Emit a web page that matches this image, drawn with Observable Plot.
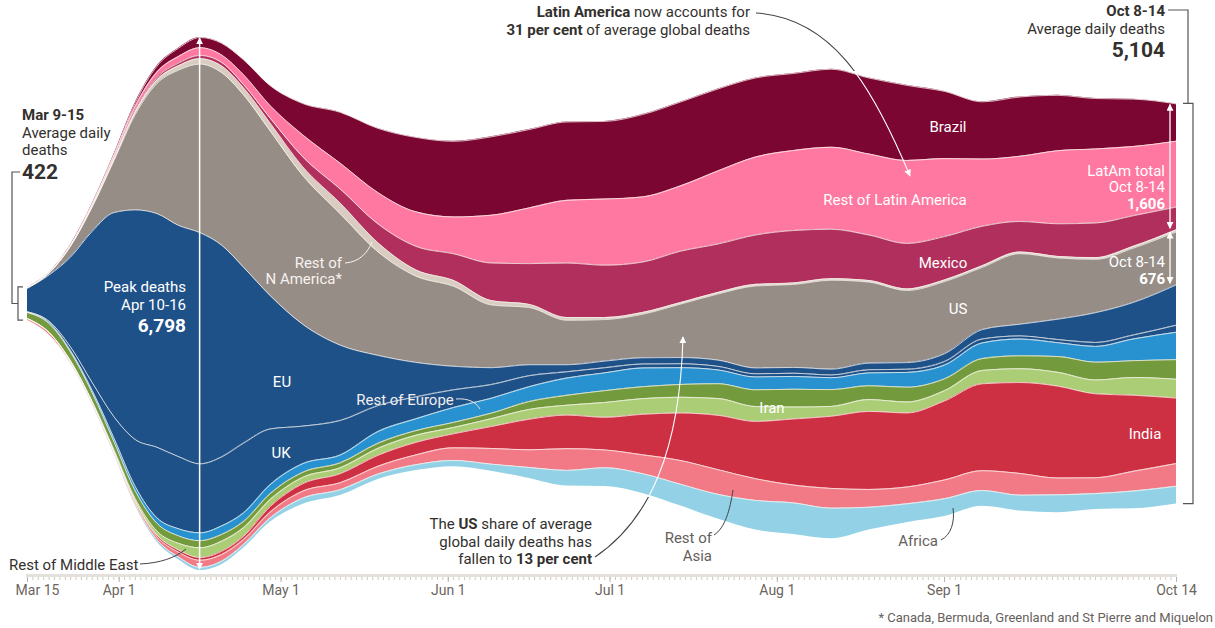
<!DOCTYPE html>
<html>
<head>
<meta charset="utf-8">
<script src="https://cdn.jsdelivr.net/npm/d3@7"></script>
<script src="https://cdn.jsdelivr.net/npm/@observablehq/plot@0.6"></script>
<style>
  html, body { margin: 0; padding: 0; background: #fff; }
  #chart { width: 1215px; height: 628px; overflow: hidden; }
  svg text { font-family: Roboto, "Noto Sans", sans-serif; }
</style>
</head>
<body>
<div id="chart"></div>
<script>
// ---------- DATA (7-day average daily deaths) ----------
const dates = ["2020-03-15","2020-03-19","2020-03-23","2020-03-27","2020-03-31","2020-04-04","2020-04-08","2020-04-12","2020-04-16","2020-04-20","2020-04-24","2020-04-29","2020-05-05","2020-05-12","2020-05-19","2020-05-26","2020-06-02","2020-06-09","2020-06-16","2020-06-23","2020-06-30","2020-07-07","2020-07-14","2020-07-21","2020-07-28","2020-08-04","2020-08-11","2020-08-18","2020-08-25","2020-09-01","2020-09-08","2020-09-15","2020-09-22","2020-09-29","2020-10-06","2020-10-14"];

const brazil      = [0,0,2,8,20,45,75,105,130,150,190,255,400,650,820,950,965,1000,1000,1000,990,1050,1070,1046,1008,983,995,970,958,857,730,756,706,643,605,475];
const restLatAm   = [2,3,8,20,35,55,70,85,100,95,125,160,280,330,400,440,470,610,710,800,844,832,832,932,995,1020,1046,1033,1058,995,857,832,932,945,882,840];
const mexico      = [0,0,1,4,10,20,30,35,40,45,40,63,126,180,240,300,340,480,520,695,668,643,655,617,630,668,630,580,580,554,504,390,416,441,391,291];
const restNAm     = [1,2,4,8,15,30,45,55,70,85,90,100,110,135,115,80,75,55,40,35,25,22,20,20,20,20,20,20,20,20,20,20,20,22,22,25];
const us          = [8,25,140,310,660,1220,1660,1980,2150,2200,2200,2100,1900,1675,1320,1100,1020,800,730,567,530,555,680,844,1046,1058,1134,1033,920,920,794,900,781,680,693,676];
const eu          = [300,590,1150,1930,2600,2930,2980,2950,2948,2700,2250,1700,1300,960,640,440,300,215,140,90,85,80,80,80,75,75,75,85,85,100,120,150,260,380,416,515];
const uk          = [4,15,45,100,270,600,900,920,880,880,890,710,480,440,330,280,225,175,140,80,65,50,50,45,40,40,35,40,40,45,50,40,40,50,50,90];
const restEurope  = [6,15,20,30,45,55,70,90,100,110,110,115,110,100,150,150,190,190,190,220,227,240,214,176,164,164,151,164,189,176,200,214,176,202,277,350];
const iran        = [75,110,110,110,105,100,100,95,90,85,80,75,65,63,65,60,65,70,100,126,151,151,164,189,214,227,214,176,189,151,151,164,202,227,214,250];
const restMidEast = [3,6,8,10,20,30,50,85,125,130,110,90,80,75,88,90,80,100,125,126,189,200,200,214,189,151,126,151,139,130,170,176,176,176,227,240];
const india       = [0,1,2,3,5,10,20,28,35,40,40,70,95,115,140,160,180,280,390,428,416,517,605,693,731,844,920,995,945,1008,1109,1160,1172,1071,970,835];
const restAsia    = [22,28,15,15,15,30,40,62,90,85,65,75,90,90,100,125,160,200,225,277,227,240,302,315,277,227,252,227,214,240,252,277,214,202,252,290];
const africa      = [1,5,5,7,10,15,25,35,40,45,45,55,80,75,70,75,80,90,140,200,240,252,277,315,378,403,390,290,240,227,200,202,227,202,227,227];

// stacking order: bottom -> top
const regions = ["Africa","Rest of Asia","India","Rest of Middle East","Iran","Rest of Europe","UK","EU","US","Rest of N America","Mexico","Rest of Latin America","Brazil"];
const regionValues = [africa, restAsia, india, restMidEast, iran, restEurope, uk, eu, us, restNAm, mexico, restLatAm, brazil];
const regionColors = ["#93d2e6","#f27a86","#cd3042","#abcd76","#739a3d","#2891d0","#1f5189","#1f5189","#978d87","#d9ccc0","#b12f5c","#fe78a1","#7b0631"];

const axisTickDates = ["2020-03-15","2020-04-01","2020-05-01","2020-06-01","2020-07-01","2020-08-01","2020-09-01","2020-10-14"];
const axisTickLabels = ["Mar 15","Apr 1","May 1","Jun 1","Jul 1","Aug 1","Sep 1","Oct 14"];

// ---------- BUILD ----------
const table = dates.flatMap((d, i) => regions.map((r, j) => ({date: new Date(d), region: r, deaths: regionValues[j][i]})));
const totals = dates.map((d, i) => d3.sum(regionValues, v => v[i]));
const days = d3.utcDay.range(new Date("2020-03-15"), new Date("2020-10-15"));
const monthTicks = axisTickDates.map(d => new Date(d));
const labelRows = axisTickDates.map((d, i) => ({date: new Date(d), label: axisTickLabels[i]}));

const W = 1215, H = 628;
const stackOpts = {x: "date", y: "deaths", z: "region", order: regions, offset: "center", curve: "monotone-x"};

const chart = Plot.plot({
  width: W, height: H,
  marginTop: 37, marginBottom: 51, marginLeft: 27, marginRight: 39,
  style: {background: "#fff", fontFamily: "Roboto, 'Noto Sans', sans-serif", overflow: "visible"},
  x: {type: "utc", domain: [new Date("2020-03-15"), new Date("2020-10-14")]},
  y: {axis: null, insetBottom: 7},
  color: {domain: regions, range: regionColors},
  marks: [
    Plot.areaY(table, Plot.stackY({...stackOpts, fill: "region"})),
    Plot.lineY(table, Plot.stackY2({...stackOpts, stroke: "#fbf6f1", strokeWidth: 0.9, strokeOpacity: 0.85})),
    Plot.axisX({ticks: days, tickSize: 3, tickFormat: () => "", stroke: "#cfc9c3", label: null}),
    Plot.axisX({ticks: monthTicks, tickSize: 5, tickFormat: () => "", stroke: "#b9b3ad", label: null}),
    Plot.text(labelRows.slice(1), {x: "date", text: "label", frameAnchor: "bottom", dy: 17, fill: "#6b6560", fontSize: 14}),
    Plot.text(labelRows.slice(0, 1), {x: "date", text: "label", frameAnchor: "bottom", dy: 17, dx: 10, fill: "#6b6560", fontSize: 14})
  ]
});
document.getElementById("chart").appendChild(chart);

// ---------- ANNOTATIONS ----------
const xs = chart.scale("x"), ys = chart.scale("y");
const yr = ys.range, yd = ys.domain;
const ppu = Math.abs(yr[0] - yr[1]) / Math.abs(yd[1] - yd[0]);
const yc = ys.apply((yd[0] + yd[1]) / 2);
const topAt = i => yc - totals[i] / 2 * ppu;
const botAt = i => yc + totals[i] / 2 * ppu;

const svg = d3.select(chart);
const defs = svg.append("defs");
function marker(id, color) {
  defs.append("marker").attr("id", id).attr("viewBox", "0 0 10 10").attr("refX", 9).attr("refY", 5)
    .attr("markerWidth", 7).attr("markerHeight", 7).attr("markerUnits", "userSpaceOnUse").attr("orient", "auto-start-reverse")
    .append("path").attr("d", "M0,0L10,5L0,10Z").attr("fill", color);
}
marker("ahw", "#ffffff");
defs.append("clipPath").attr("id", "clipLA1").append("rect").attr("x", 0).attr("y", 0).attr("width", W).attr("height", 71);
defs.append("clipPath").attr("id", "clipLA2").append("rect").attr("x", 0).attr("y", 71).attr("width", W).attr("height", H);
defs.append("clipPath").attr("id", "clipUS1").append("rect").attr("x", 0).attr("y", 497).attr("width", W).attr("height", H);
defs.append("clipPath").attr("id", "clipUS2").append("rect").attr("x", 0).attr("y", 0).attr("width", W).attr("height", 497);

const g = svg.append("g");
const DARK = "#33302e", GREY = "#66605c";

// axis ruler
const x0 = xs.apply(new Date("2020-03-15")), x1 = xs.apply(new Date("2020-10-14"));
g.append("rect").attr("x", x0 - 1).attr("y", 574).attr("width", x1 - x0 + 2).attr("height", 3).attr("fill", "#e4e0dc");

function path(d, stroke, width, extra = {}) {
  const p = g.append("path").attr("d", d).attr("fill", "none").attr("stroke", stroke).attr("stroke-width", width);
  for (const k in extra) p.attr(k, extra[k]);
  return p;
}
function txt(x, y, parts, {anchor = "start", size = 15, fill = DARK} = {}) {
  const t = g.append("text").attr("x", x).attr("y", y).attr("dy", "0.35em").attr("text-anchor", anchor)
    .attr("font-size", size).attr("fill", fill);
  (Array.isArray(parts) ? parts : [parts]).forEach(p => {
    const [s, b] = Array.isArray(p) ? p : [p, false];
    t.append("tspan").text(s).attr("font-weight", b ? 700 : 400);
  });
}

// peak arrow (Apr 16)
const iPeak = dates.indexOf("2020-04-16");
const xPeak = xs.apply(new Date("2020-04-16"));
path(`M${xPeak},${topAt(iPeak) + 1}V${botAt(iPeak) - 1}`, "#fff", 1.5, {"marker-start": "url(#ahw)", "marker-end": "url(#ahw)"});

// left bracket (Mar 9-15)
const yl0 = topAt(0), yl1 = botAt(0);
path(`M23,${yl0}H18V${yl1}H23`, "#555", 1.2);
path(`M20,172H12V${(yl0 + yl1) / 2}H18`, "#555", 1.2);
txt(22, 115, [["Mar 9-15", true]]);
txt(22, 133, "Average daily");
txt(22, 150, "deaths");
txt(22, 172, [["422", true]], {size: 21});

// right bracket (Oct 8-14)
const iEnd = dates.length - 1;
const yr0 = topAt(iEnd), yr1 = botAt(iEnd);
path(`M1168,10H1188V${yr0}`, "#555", 1.2);
path(`M1183,${yr0}H1193V${yr1}H1183`, "#555", 1.2);
txt(1165, 11, [["Oct 8-14", true]], {anchor: "end"});
txt(1165, 29, "Average daily deaths", {anchor: "end"});
txt(1165, 50, [["5,104", true]], {anchor: "end", size: 21});

// LatAm and US arrows at Oct 14
const latAm = brazil[iEnd] + restLatAm[iEnd] + mexico[iEnd];
const laTop = yr0, laBot = yr0 + latAm * ppu;
const usTop = laBot + restNAm[iEnd] * ppu, usBot = usTop + us[iEnd] * ppu;
const xa = 1170;
path(`M${xa},${laTop + 1}V${laBot - 1}`, "#fff", 1.3, {"marker-start": "url(#ahw)", "marker-end": "url(#ahw)"});
path(`M${xa},${usTop + 1}V${usBot - 1}`, "#fff", 1.3, {"marker-start": "url(#ahw)", "marker-end": "url(#ahw)"});
txt(1165, 171, "LatAm total", {anchor: "end", fill: "#fff"});
txt(1165, 187, "Oct 8-14", {anchor: "end", fill: "#fff"});
txt(1165, 204, [["1,606", true]], {anchor: "end", fill: "#fff"});
txt(1165, 262, "Oct 8-14", {anchor: "end", fill: "#fff"});
txt(1165, 279, [["676", true]], {anchor: "end", fill: "#fff"});

// peak label
txt(186, 287, "Peak deaths", {anchor: "end", fill: "#fff"});
txt(186, 305, "Apr 10-16", {anchor: "end", fill: "#fff"});
txt(186, 325, [["6,798", true]], {anchor: "end", fill: "#fff", size: 19});

// Latin America annotation
txt(750, 12, [["Latin America", true], " now accounts for"], {anchor: "end"});
txt(750, 30, [["31 per cent", true], " of average global deaths"], {anchor: "end"});
const laCurve = "M756,13C830,18 870,80 910,176";
path(laCurve, "#444", 1.1, {"clip-path": "url(#clipLA1)"});
path(laCurve, "#fff", 1.1, {"clip-path": "url(#clipLA2)", "marker-end": "url(#ahw)"});

// US share annotation
txt(592, 524, ["The ", ["US", true], " share of average"], {anchor: "end"});
txt(592, 542, "global daily deaths has", {anchor: "end"});
txt(592, 559, ["fallen to ", ["13 per cent", true]], {anchor: "end"});
const usCurve = "M595,557C650,520 680,450 683,337";
path(usCurve, "#444", 1.1, {"clip-path": "url(#clipUS1)"});
path(usCurve, "#fff", 1.1, {"clip-path": "url(#clipUS2)", "marker-end": "url(#ahw)"});

// in-stream labels
const WHITE = "#fff";
txt(948, 127, "Brazil", {anchor: "middle", fill: WHITE});
txt(895, 200, "Rest of Latin America", {anchor: "middle", fill: WHITE});
txt(943, 263, "Mexico", {anchor: "middle", fill: WHITE});
txt(958, 309, "US", {anchor: "middle", fill: WHITE});
txt(1145, 434, "India", {anchor: "middle", fill: WHITE});
txt(772, 408, "Iran", {anchor: "middle", fill: WHITE});
txt(282, 382, "EU", {anchor: "middle", fill: WHITE});
txt(281, 453, "UK", {anchor: "middle", fill: WHITE});
txt(405, 400, "Rest of Europe", {anchor: "middle", fill: "#f1eeee"});
path("M456,399C468,398 476,402 480,409", "#e8e4e4", 1);
txt(342, 263, "Rest of", {anchor: "end", fill: "#f6f2ee"});
txt(342, 279, "N America*", {anchor: "end", fill: "#f6f2ee"});
path("M345,263C360,262 368,252 372,242", "#f6f2ee", 1);

// outside labels
txt(9, 565, "Rest of Middle East", {fill: DARK});
path("M140,564C160,563 175,558 186,549", "#444", 1);
txt(712, 538, "Rest of", {anchor: "end", fill: GREY});
txt(712, 556, "Asia", {anchor: "end", fill: GREY});
path("M714,535C725,528 730,510 733,490", "#444", 1);
txt(938, 541, "Africa", {anchor: "end", fill: GREY});
path("M941,540C951,535 955,522 953,508", "#444", 1);

// footnote
txt(1213, 617, "* Canada, Bermuda, Greenland and St Pierre and Miquelon", {anchor: "end", fill: GREY, size: 13});
</script>
</body>
</html>
